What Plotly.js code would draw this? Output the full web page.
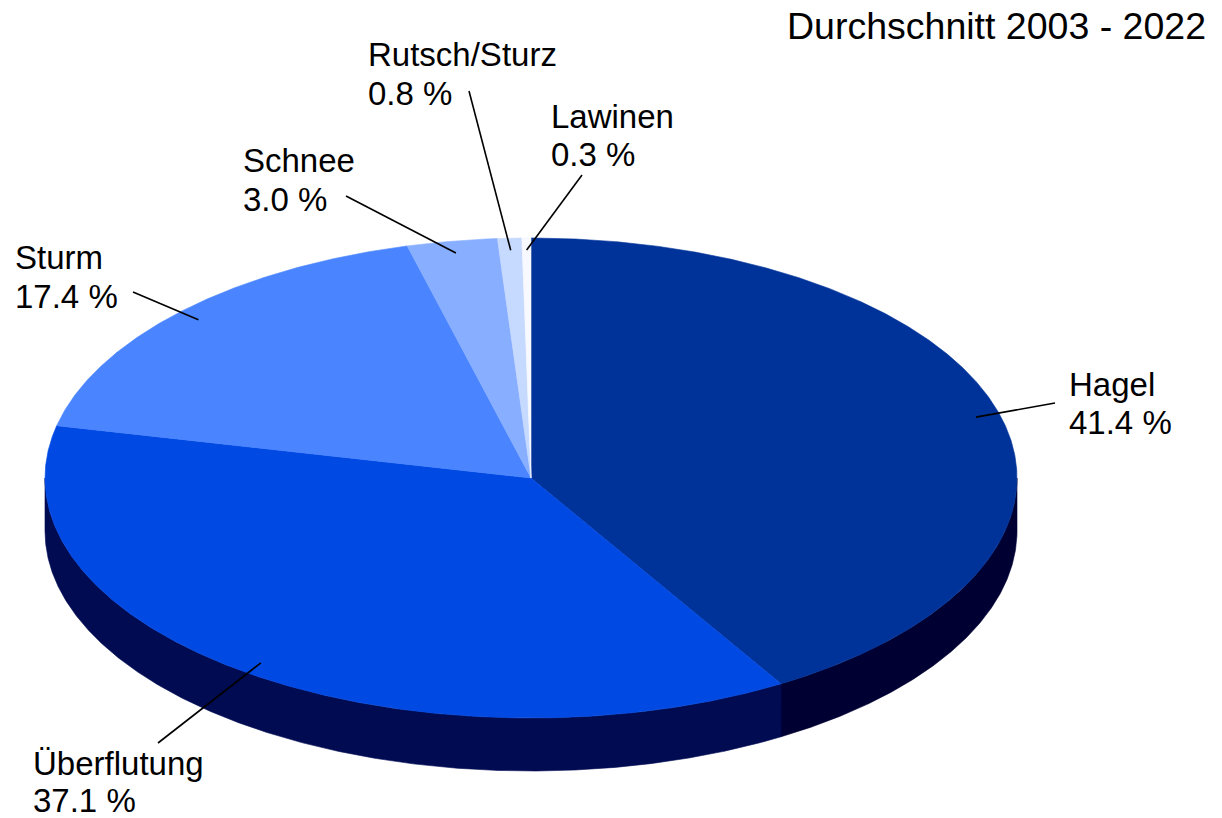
<!DOCTYPE html>
<html>
<head>
<meta charset="utf-8">
<script src="https://cdn.plot.ly/plotly-3.0.1.min.js"></script>
<style>html,body{margin:0;padding:0;background:#fff;}#chart{width:1222px;height:818px;}</style>
</head>
<body>
<div id="chart"></div>
<script>
// ---- data ----
const categories = ['Hagel', 'Überflutung', 'Sturm', 'Schnee', 'Rutsch/Sturz', 'Lawinen'];
const shares = [41.4, 37.1, 17.4, 3.0, 0.8, 0.3];
const chartTitle = 'Durchschnitt 2003 - 2022';

// ---- styles ----
const topColors = ['#003399', '#0049E2', '#4A85FF', '#88AEFF', '#C6D9FF', '#F7F9FF'];
const sideColors = ['#000033', '#000B52', '#1F3F9F', '#3F5FBF', '#6070A0', '#A0A8C0'];

// ---- geometry of the projected pie (layout) ----
const W = 1222, H = 818;
const cx = 531, cy = 478, rx = 486, ry = 240, depth = 53;
const FONT = 'Liberation Sans, Arial, sans-serif';
const LS = 33;               // label font size
const TS = 37.5;             // title font size
// label placement: left x, baselines of the two lines, leader-line start
const labelLayout = [
  {x: 1069, b1: 396, b2: 434, lx: 1055, ly: 403},
  {x: 33,   b1: 775, b2: 812, lx: 158,  ly: 743},
  {x: 15,   b1: 269, b2: 308, lx: 133,  ly: 292},
  {x: 243,  b1: 172, b2: 211, lx: 346,  ly: 196},
  {x: 368,  b1: 66,  b2: 105, lx: 469,  ly: 91},
  {x: 551,  b1: 128, b2: 166, lx: 582,  ly: 175}
];

function pt(thetaDeg, f, dy) {
  const t = thetaDeg * Math.PI / 180;
  return [cx + f * rx * Math.sin(t), cy - f * ry * Math.cos(t) + (dy || 0)];
}

const total = shares.reduce((a, b) => a + b, 0);
const sideTraces = [];
const topTraces = [];
const lineTraces = [];
const annotations = [];

let acc = 0;
shares.forEach((v, i) => {
  const a0 = acc / total * 360;
  const a1 = (acc + v) / total * 360;
  acc += v;
  // top face wedge
  const xs = [cx], ys = [cy];
  const n = Math.max(4, Math.ceil((a1 - a0) / 0.25));
  for (let k = 0; k <= n; k++) {
    const p = pt(a0 + (a1 - a0) * k / n, 1);
    xs.push(p[0]); ys.push(p[1]);
  }
  xs.push(cx); ys.push(cy);
  topTraces.push({
    type: 'scatter', mode: 'lines', x: xs, y: ys, fill: 'toself',
    fillcolor: topColors[i], line: {color: topColors[i], width: 0.6},
    hoverinfo: 'skip', showlegend: false
  });
  // visible side (front half: 90..270 deg)
  const s0 = Math.max(a0, 90), s1 = Math.min(a1, 270);
  if (s1 > s0) {
    const sx = [], sy = [];
    const m = Math.max(4, Math.ceil((s1 - s0) / 0.25));
    for (let k = 0; k <= m; k++) {
      const p = pt(s0 + (s1 - s0) * k / m, 1);
      sx.push(p[0]); sy.push(p[1]);
    }
    for (let k = m; k >= 0; k--) {
      const p = pt(s0 + (s1 - s0) * k / m, 1, depth);
      sx.push(p[0]); sy.push(p[1]);
    }
    sx.push(sx[0]); sy.push(sy[0]);
    sideTraces.push({
      type: 'scatter', mode: 'lines', x: sx, y: sy, fill: 'toself',
      fillcolor: sideColors[i], line: {color: sideColors[i], width: 0.6},
      hoverinfo: 'skip', showlegend: false
    });
  }
  // leader line from label to slice (mid angle)
  const mid = (a0 + a1) / 2;
  const end = pt(mid, 0.95);
  const L = labelLayout[i];
  lineTraces.push({
    type: 'scatter', mode: 'lines', x: [L.lx, end[0]], y: [L.ly, end[1]],
    line: {color: '#000000', width: 1.6}, hoverinfo: 'skip', showlegend: false
  });
  // labels
  annotations.push({
    x: L.x - 2, y: L.b1 - 0.35 * LS, xref: 'x', yref: 'y', xanchor: 'left', yanchor: 'middle',
    text: categories[i], showarrow: false, font: {family: FONT, size: LS, color: '#000'}
  });
  annotations.push({
    x: L.x - 2, y: L.b2 - 0.35 * LS, xref: 'x', yref: 'y', xanchor: 'left', yanchor: 'middle',
    text: v.toFixed(1) + ' %', showarrow: false, font: {family: FONT, size: LS, color: '#000'}
  });
});

annotations.push({
  x: 1208, y: 39 - 0.35 * TS, xref: 'x', yref: 'y', xanchor: 'right', yanchor: 'middle',
  text: chartTitle, showarrow: false, font: {family: FONT, size: TS, color: '#000'}
});

const data = sideTraces.concat(topTraces, lineTraces);

const layout = {
  width: W, height: H,
  margin: {l: 0, r: 0, t: 0, b: 0},
  paper_bgcolor: '#ffffff', plot_bgcolor: '#ffffff',
  xaxis: {range: [0, W], visible: false, fixedrange: true},
  yaxis: {range: [H, 0], visible: false, fixedrange: true},
  showlegend: false,
  annotations: annotations
};

Plotly.newPlot('chart', data, layout, {displayModeBar: false, staticPlot: true});
</script>
</body>
</html>
